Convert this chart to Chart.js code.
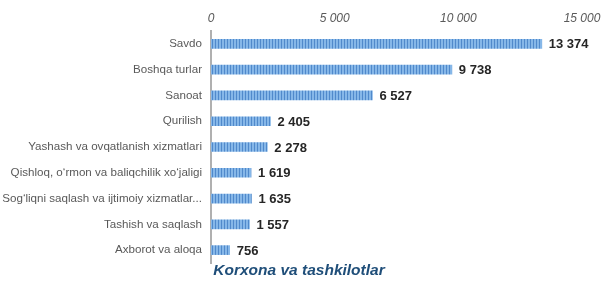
<!DOCTYPE html>
<html>
<head>
<meta charset="utf-8">
<script src="https://cdn.jsdelivr.net/npm/chart.js@4"></script>
<style>
  html, body { margin: 0; padding: 0; background: #fff; }
  #wrap { width: 606px; height: 281px; }
</style>
</head>
<body>
<div id="wrap"><canvas id="chart"></canvas></div>
<script>
const categories = [
  'Savdo',
  'Boshqa turlar',
  'Sanoat',
  'Qurilish',
  'Yashash va ovqatlanish xizmatlari',
  'Qishloq, o‘rmon va baliqchilik xo‘jaligi',
  'Sog‘liqni saqlash va ijtimoiy xizmatlar...',
  'Tashish va saqlash',
  'Axborot va aloqa'
];
const values = [13374, 9738, 6527, 2405, 2278, 1619, 1635, 1557, 756];
const xTicks = [0, 5000, 10000, 15000];
const titleText = 'Korxona va tashkilotlar';

const fmt = v => String(v).replace(/\B(?=(\d{3})+(?!\d))/g, ' ');

// striped blue fill like the original
function stripes() {
  const c = document.createElement('canvas');
  c.width = 3; c.height = 1;
  const g = c.getContext('2d');
  g.fillStyle = '#86b7e8'; g.fillRect(0, 0, 3, 1);
  g.fillStyle = '#5089cb'; g.fillRect(2, 0, 1, 1);
  return g.createPattern(c, 'repeat');
}

const valueLabels = {
  id: 'valueLabels',
  afterDatasetsDraw(chart) {
    const ctx = chart.ctx;
    const meta = chart.getDatasetMeta(0);
    ctx.save();
    ctx.font = 'bold 13px "Liberation Sans", Arial, sans-serif';
    ctx.fillStyle = '#262626';
    ctx.textBaseline = 'middle';
    meta.data.forEach((bar, i) => {
      ctx.fillText(fmt(values[i]), bar.x + 7, bar.y + 1);
    });
    ctx.restore();
  }
};

// axis title sits under the plot, a bit right of the canvas centre
const bottomTitle = {
  id: 'bottomTitle',
  afterDraw(chart) {
    const ctx = chart.ctx;
    ctx.save();
    ctx.font = 'italic bold 15.5px "Liberation Sans", Arial, sans-serif';
    ctx.fillStyle = '#1f4e79';
    ctx.textAlign = 'center';
    ctx.textBaseline = 'middle';
    ctx.fillText(titleText, 299, chart.chartArea.bottom + 8);
    ctx.restore();
  }
};

new Chart(document.getElementById('chart'), {
  type: 'bar',
  data: {
    labels: categories,
    datasets: [{
      data: values,
      backgroundColor: stripes(),
      barThickness: 9,
      borderWidth: 0
    }]
  },
  options: {
    indexAxis: 'y',
    responsive: true,
    maintainAspectRatio: false,
    animation: false,
    layout: { padding: { top: 0, right: 24, left: 0, bottom: 18 } },
    scales: {
      x: {
        position: 'top',
        min: 0,
        max: 15000,
        afterBuildTicks: s => { s.ticks = xTicks.map(v => ({ value: v })); },
        afterFit: s => { s.height = 31; },
        grid: { display: false, drawTicks: false },
        border: { display: false },
        ticks: {
          padding: 5,
          color: '#595959',
          font: { family: '"Liberation Sans", Arial', size: 12, style: 'italic' },
          callback: v => fmt(v)
        }
      },
      y: {
        afterFit: s => { s.width = 211; },
        grid: { display: false, drawTicks: false },
        border: { display: true, color: '#b0b0b0', width: 2 },
        ticks: {
          padding: 9,
          autoSkip: false,
          color: '#595959',
          font: { family: '"Liberation Sans", Arial', size: 11.6 }
        }
      }
    },
    plugins: {
      legend: { display: false },
      tooltip: { enabled: false },
      title: { display: false }
    }
  },
  plugins: [valueLabels, bottomTitle]
});
</script>
</body>
</html>
